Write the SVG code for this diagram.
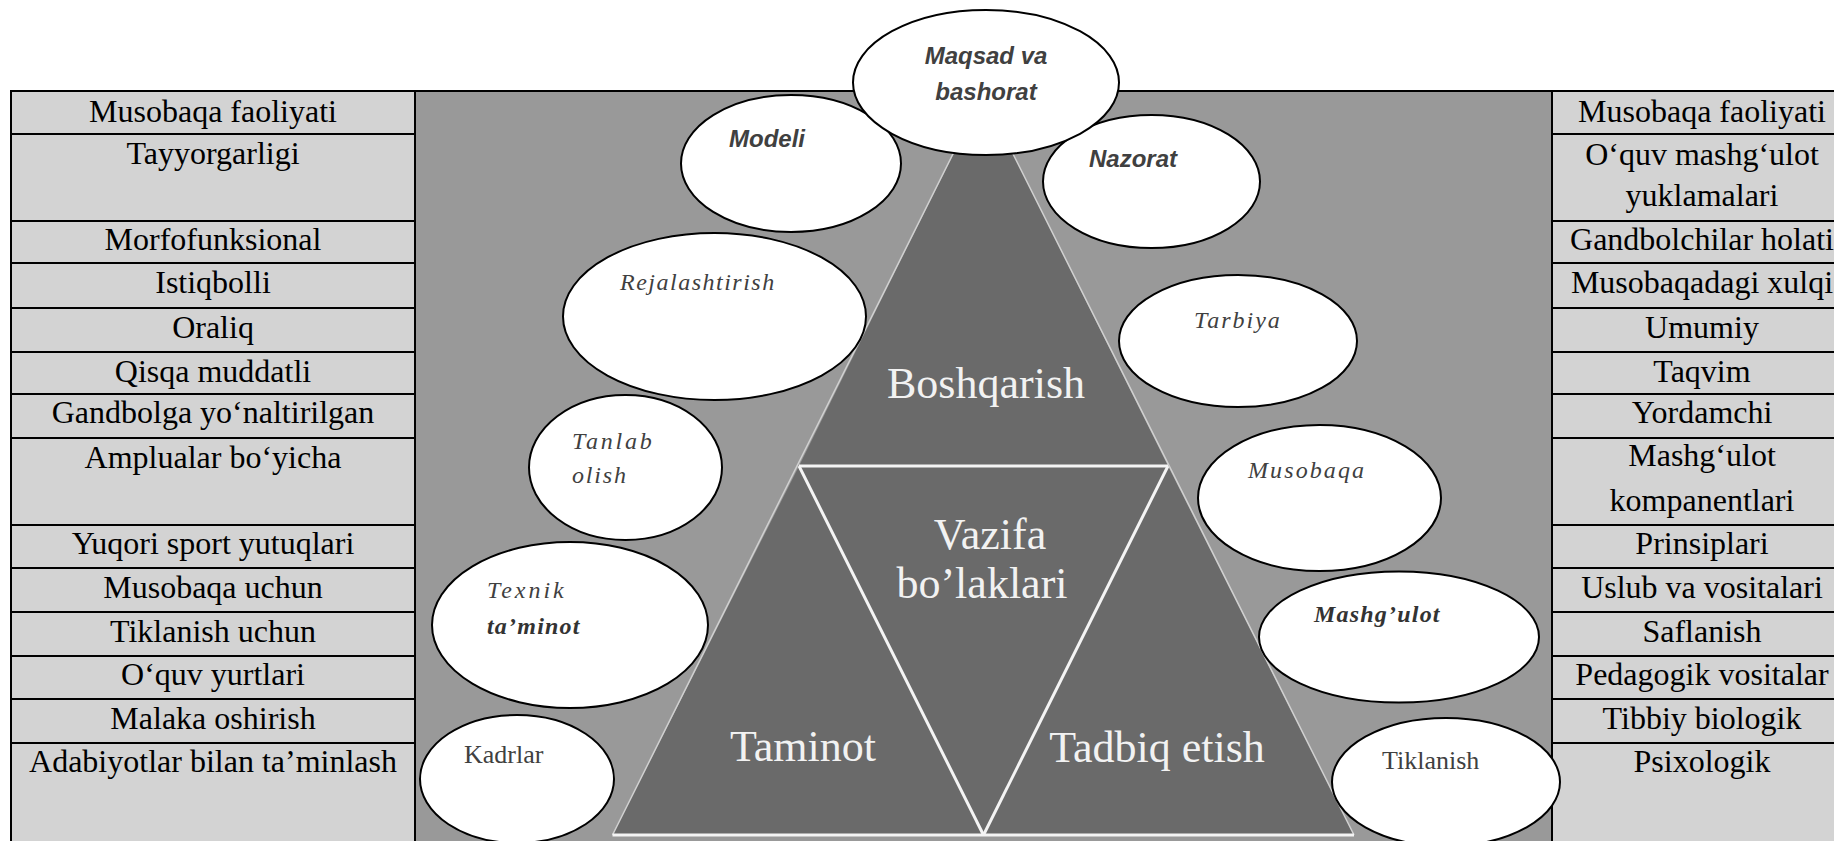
<svg xmlns="http://www.w3.org/2000/svg" width="1834" height="841" viewBox="0 0 1834 841">
<style>
.cell{fill:#d3d3d3;stroke:#000;stroke-width:2}
.tt{font-family:"Liberation Serif","Times New Roman",serif;font-size:32px;fill:#000;text-anchor:middle}
.ell{fill:#fff;stroke:#000;stroke-width:2}
.tri{fill:#6a6a6a}
.tl{font-family:"Liberation Serif","Times New Roman",serif;font-size:44px;fill:#f2f2f2;text-anchor:middle}
.si{font-family:"Liberation Serif","Times New Roman",serif;font-style:italic;font-size:24px;fill:#404040}
.sbi{font-family:"Liberation Serif","Times New Roman",serif;font-style:italic;font-weight:bold;font-size:24px;fill:#333}
.sr{font-family:"Liberation Serif","Times New Roman",serif;font-size:26px;fill:#404040}
.sb{font-family:"Liberation Sans",Arial,sans-serif;font-style:italic;font-weight:bold;fill:#404040;font-size:24px;text-anchor:middle}
.edge{stroke:#d0d0d0;stroke-width:1.5;fill:none}
.inner{stroke:#f4f4f4;stroke-width:3;fill:none}
</style>
<rect width="1834" height="841" fill="#fff"/>
<rect x="415" y="91" width="1137" height="750" fill="#999"/>

<g id="left-table">
<g id="L1"><rect class="cell" x="11" y="91" width="404" height="43"/><text class="tt" x="213" y="122">Musobaqa faoliyati</text></g>
<g id="L2"><rect class="cell" x="11" y="134" width="404" height="87"/><text class="tt" x="213" y="164">Tayyorgarligi</text></g>
<g id="L3"><rect class="cell" x="11" y="221" width="404" height="42"/><text class="tt" x="213" y="250">Morfofunksional</text></g>
<g id="L4"><rect class="cell" x="11" y="263" width="404" height="45"/><text class="tt" x="213" y="293">Istiqbolli</text></g>
<g id="L5"><rect class="cell" x="11" y="308" width="404" height="44"/><text class="tt" x="213" y="338">Oraliq</text></g>
<g id="L6"><rect class="cell" x="11" y="352" width="404" height="42"/><text class="tt" x="213" y="382">Qisqa muddatli</text></g>
<g id="L7"><rect class="cell" x="11" y="394" width="404" height="44"/><text class="tt" x="213" y="423">Gandbolga yo‘naltirilgan</text></g>
<g id="L8"><rect class="cell" x="11" y="438" width="404" height="87"/><text class="tt" x="213" y="468">Amplualar bo‘yicha</text></g>
<g id="L9"><rect class="cell" x="11" y="525" width="404" height="43"/><text class="tt" x="213" y="554">Yuqori sport yutuqlari</text></g>
<g id="L10"><rect class="cell" x="11" y="568" width="404" height="44"/><text class="tt" x="213" y="598">Musobaqa uchun</text></g>
<g id="L11"><rect class="cell" x="11" y="612" width="404" height="44"/><text class="tt" x="213" y="642">Tiklanish uchun</text></g>
<g id="L12"><rect class="cell" x="11" y="656" width="404" height="43"/><text class="tt" x="213" y="685">O‘quv yurtlari</text></g>
<g id="L13"><rect class="cell" x="11" y="699" width="404" height="44"/><text class="tt" x="213" y="729">Malaka oshirish</text></g>
<g id="L14"><rect class="cell" x="11" y="743" width="404" height="110"/><text class="tt" x="213" y="772">Adabiyotlar bilan ta’minlash</text></g>
</g>

<g id="right-table">
<g id="R1"><rect class="cell" x="1552" y="91" width="300" height="43"/><text class="tt" x="1702" y="122">Musobaqa faoliyati</text></g>
<g id="R2"><rect class="cell" x="1552" y="134" width="300" height="87"/><text class="tt" x="1702" y="165">O‘quv mashg‘ulot</text><text class="tt" x="1702" y="206">yuklamalari</text></g>
<g id="R3"><rect class="cell" x="1552" y="221" width="300" height="42"/><text class="tt" x="1702" y="250">Gandbolchilar holati</text></g>
<g id="R4"><rect class="cell" x="1552" y="263" width="300" height="45"/><text class="tt" x="1702" y="293">Musobaqadagi xulqi</text></g>
<g id="R5"><rect class="cell" x="1552" y="308" width="300" height="44"/><text class="tt" x="1702" y="338">Umumiy</text></g>
<g id="R6"><rect class="cell" x="1552" y="352" width="300" height="42"/><text class="tt" x="1702" y="382">Taqvim</text></g>
<g id="R7"><rect class="cell" x="1552" y="394" width="300" height="44"/><text class="tt" x="1702" y="423">Yordamchi</text></g>
<g id="R8"><rect class="cell" x="1552" y="438" width="300" height="87"/><text class="tt" x="1702" y="466">Mashg‘ulot</text><text class="tt" x="1702" y="511">kompanentlari</text></g>
<g id="R9"><rect class="cell" x="1552" y="525" width="300" height="43"/><text class="tt" x="1702" y="554">Prinsiplari</text></g>
<g id="R10"><rect class="cell" x="1552" y="568" width="300" height="44"/><text class="tt" x="1702" y="598">Uslub va vositalari</text></g>
<g id="R11"><rect class="cell" x="1552" y="612" width="300" height="44"/><text class="tt" x="1702" y="642">Saflanish</text></g>
<g id="R12"><rect class="cell" x="1552" y="656" width="300" height="43"/><text class="tt" x="1702" y="685">Pedagogik vositalar</text></g>
<g id="R13"><rect class="cell" x="1552" y="699" width="300" height="44"/><text class="tt" x="1702" y="729">Tibbiy biologik</text></g>
<g id="R14"><rect class="cell" x="1552" y="743" width="300" height="110"/><text class="tt" x="1702" y="772">Psixologik</text></g>
</g>

<line x1="11" y1="91" x2="1834" y2="91" stroke="#000" stroke-width="2"/>

<g id="triangle">
<g id="boshqarish"><polygon class="tri" points="983,94 799,466 1168,466"/><text class="tl" x="986" y="398" font-size="47">Boshqarish</text></g>
<g id="vazifa"><polygon class="tri" points="799,466 1168,466 983.5,835"/><text class="tl" x="990" y="549">Vazifa</text><text class="tl" x="982" y="598">bo’laklari</text></g>
<g id="taminot"><polygon class="tri" points="799,466 612.5,835 983.5,835"/><text class="tl" x="803" y="761" font-size="46">Taminot</text></g>
<g id="tadbiq"><polygon class="tri" points="1168,466 983.5,835 1354,835"/><text class="tl" x="1157" y="762" font-size="46">Tadbiq etish</text></g>
</g>

<g id="connectors">
<polyline class="edge" points="612.5,835 983,94 1354,835"/>
<line class="inner" x1="799" y1="466" x2="1168" y2="466" stroke-width="2.5"/>
<line class="inner" x1="799" y1="466" x2="983.5" y2="835"/>
<line class="inner" x1="1168" y1="466" x2="983.5" y2="835"/>
<line class="inner" x1="612.5" y1="835" x2="1354" y2="835" stroke-width="2.5"/>
</g>

<g id="modeli"><ellipse class="ell" cx="791" cy="163.5" rx="110" ry="68.5"/><text class="sb" x="767" y="147" font-size="25">Modeli</text></g>
<g id="nazorat"><ellipse class="ell" cx="1151.5" cy="181.5" rx="108.5" ry="66.5"/><text class="sb" x="1133" y="167" font-size="25">Nazorat</text></g>
<g id="maqsad"><ellipse class="ell" cx="986" cy="82.5" rx="133" ry="72.5"/><text class="sb" x="986" y="64">Maqsad va</text><text class="sb" x="986" y="100">bashorat</text></g>
<g id="rejalashtirish"><ellipse class="ell" cx="714.5" cy="316.5" rx="151.5" ry="83.5"/><text class="si" x="620" y="290" letter-spacing="1.5">Rejalashtirish</text></g>
<g id="tarbiya"><ellipse class="ell" cx="1238" cy="341" rx="119" ry="66"/><text class="si" x="1194" y="328" letter-spacing="2">Tarbiya</text></g>
<g id="tanlab"><ellipse class="ell" cx="625.5" cy="467.5" rx="96.5" ry="72.5"/><text class="si" x="572" y="449" letter-spacing="2.8">Tanlab</text><text class="si" x="572" y="483" letter-spacing="1.8">olish</text></g>
<g id="musobaqa"><ellipse class="ell" cx="1319.5" cy="498" rx="121.5" ry="73"/><text class="si" x="1248" y="478" letter-spacing="2.1">Musobaqa</text></g>
<g id="texnik"><ellipse class="ell" cx="570" cy="625" rx="138" ry="83"/><text class="si" x="487" y="598" font-size="25" letter-spacing="3">Texnik</text><text class="sbi" x="487" y="634" font-size="26" letter-spacing="1.2">ta’minot</text></g>
<g id="mashgulot"><ellipse class="ell" cx="1399" cy="637" rx="140" ry="65.5"/><text class="sbi" x="1314" y="622" letter-spacing="1.2">Mashg’ulot</text></g>
<g id="kadrlar"><ellipse class="ell" cx="517" cy="779" rx="97" ry="64"/><text class="sr" x="464" y="763">Kadrlar</text></g>
<g id="tiklanish"><ellipse class="ell" cx="1446" cy="782" rx="114" ry="64"/><text class="sr" x="1382" y="769">Tiklanish</text></g>
</svg>
